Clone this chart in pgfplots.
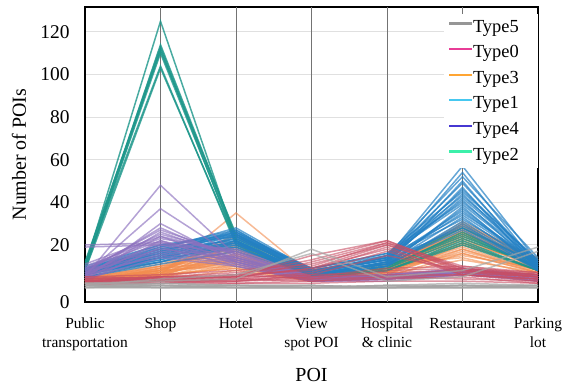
\documentclass[border=0pt]{standalone}
\usepackage{pgfplots}
\pgfplotsset{compat=1.18}
\usepackage{fontspec}
\setmainfont{Liberation Serif}

\definecolor{cTeal}{RGB}{28,150,138}
\definecolor{cPurp}{RGB}{140,112,190}
\definecolor{cBlue}{RGB}{35,128,196}
\definecolor{cOran}{RGB}{242,140,78}
\definecolor{cRed}{RGB}{200,78,100}
\definecolor{cGray}{RGB}{165,165,165}
\definecolor{lGray}{RGB}{150,150,150}
\definecolor{lPink}{RGB}{232,60,150}
\definecolor{lOran}{RGB}{255,165,50}
\definecolor{lSky}{RGB}{70,200,240}
\definecolor{lBlue}{RGB}{70,55,210}
\definecolor{lMint}{RGB}{60,240,170}

\pgfplotsset{
  tealL/.style={color=cTeal, draw opacity=0.8, line width=1.5pt},
  purpL/.style={color=cPurp, draw opacity=0.65, line width=1.5pt},
  blueL/.style={color=cBlue, draw opacity=0.7, line width=1.5pt},
  oranL/.style={color=cOran, draw opacity=0.6, line width=1.5pt},
  redL/.style={color=cRed, draw opacity=0.6, line width=1.5pt},
  grayL/.style={color=cGray, draw opacity=0.7, line width=1.5pt},
}
\newcommand\pl[8]{\addplot[#1,forget plot] coordinates {(0,#2)(1,#3)(2,#4)(3,#5)(4,#6)(5,#7)(6,#8)};}
\newcommand\lgimg[1]{\addlegendimage{legend image code/.code={\fill[#1] (0bp,3.5bp) rectangle (22bp,4.6bp);}}}

\begin{document}
\begin{tikzpicture}
\path[use as bounding box] (-85bp,-85bp) rectangle (479bp,302bp);
\begin{axis}[
  scale only axis, width=453bp, height=295bp,
  xmin=0, xmax=6, ymin=-6.8, ymax=131.7,
  xtick={0,...,6},
  xticklabels={{Public\\transportation},Shop,Hotel,{View\\spot POI},{Hospital\\\& clinic},Restaurant,{Parking\\lot}},
  xticklabel style={align=center, font=\fontsize{15.5}{19}\selectfont, yshift=-12.5bp},
  ytick={-6.8,20,40,60,80,100,120},
  yticklabels={0,20,40,60,80,100,120},
  yticklabel style={font=\fontsize{19.5}{21}\selectfont, xshift=-12bp},
  ytick style={draw=none},
  xtick pos=left,
  major tick length=6bp,
  xtick style={black, line width=0.8bp},
  ymajorgrids,
  major grid style={color=black!12, line width=1.1bp},
  extra x ticks={1,2,3,4,5},
  extra x tick labels={},
  extra x tick style={grid=major, major grid style={color=black!55, line width=0.7bp}, major tick length=0pt},
  axis line style={black, line width=1.1bp},
  every axis y label/.style={at={([xshift=-66bp]axis description cs:0,0.5)}, rotate=90, anchor=center},
  every axis x label/.style={at={(axis description cs:0.5,0)}, anchor=center, yshift=-73bp},
  ylabel={\fontsize{20}{22}\selectfont Number of POIs},
  xlabel={\fontsize{20}{22}\selectfont POI},
  legend style={at={(1,1)}, anchor=north east, yshift=-7bp, draw=none, fill=white, inner xsep=5bp, inner ysep=3bp,
    row sep=5.6bp, font=\fontsize{18.5}{20}\selectfont,
    nodes={inner sep=2bp, text height=13bp, text depth=3bp}},
  legend cell align=left,
]
\lgimg{lGray}\addlegendentry{Type5\rule{12bp}{0pt}}
\lgimg{lPink}\addlegendentry{Type0\rule{12bp}{0pt}}
\lgimg{lOran}\addlegendentry{Type3\rule{12bp}{0pt}}
\lgimg{lSky}\addlegendentry{Type1\rule{12bp}{0pt}}
\lgimg{lBlue}\addlegendentry{Type4\rule{12bp}{0pt}}
\lgimg{lMint}\addlegendentry{Type2\rule{12bp}{0pt}}

% Type3 (orange)
\pl{oranL}{3}{6}{35}{6}{8}{26}{10}
\pl{oranL}{4}{8}{25}{5}{9}{31}{13}
\pl{oranL}{3}{7}{24}{4}{8}{30}{12}
\pl{oranL}{2}{9}{22}{5}{10}{29}{14}
\pl{oranL}{5}{10}{21}{6}{11}{28}{12}
\pl{oranL}{4}{6}{20}{4}{7}{27}{11}
\pl{oranL}{3}{8}{19}{3}{9}{26}{10}
\pl{oranL}{2}{5}{18}{4}{8}{25}{13}
\pl{oranL}{4}{11}{17}{5}{12}{24}{11}
\pl{oranL}{3}{7}{16}{3}{6}{23}{9}
\pl{oranL}{5}{12}{15}{6}{10}{22}{10}
\pl{oranL}{2}{6}{14}{4}{7}{21}{8}
\pl{oranL}{3}{9}{13}{5}{9}{20}{9}
\pl{oranL}{4}{7}{12}{4}{8}{19}{8}
\pl{oranL}{3}{5}{11}{3}{6}{18}{7}
\pl{oranL}{2}{8}{10}{4}{7}{17}{8}
\pl{oranL}{4}{6}{9}{3}{5}{16}{7}
\pl{oranL}{3}{10}{14}{5}{9}{15}{9}
\pl{oranL}{5}{9}{12}{6}{11}{14}{6}
\pl{oranL}{2}{4}{8}{3}{6}{13}{7}
\pl{oranL}{3}{6}{16}{4}{8}{24}{14}
\pl{oranL}{4}{8}{20}{5}{10}{28}{12}
\pl{oranL}{3}{5}{13}{4}{7}{29}{11}
\pl{oranL}{4}{7}{18}{5}{9}{27}{13}
\pl{oranL}{2}{6}{15}{3}{8}{25}{12}
\pl{oranL}{5}{8}{11}{4}{10}{23}{10}
\pl{oranL}{3}{9}{19}{6}{7}{21}{11}
\pl{oranL}{4}{5}{10}{3}{6}{20}{9}
\pl{oranL}{2}{7}{13}{5}{8}{18}{8}
\pl{oranL}{3}{6}{9}{4}{9}{16}{7}
\pl{oranL}{4}{10}{17}{5}{11}{26}{12}
\pl{oranL}{3}{8}{22}{4}{8}{30}{13}

% Type2 (teal)
\pl{tealL}{10}{125}{22}{5}{8}{22}{8}
\pl{tealL}{9}{114}{24}{6}{10}{24}{10}
\pl{tealL}{11}{113}{23}{5}{9}{26}{9}
\pl{tealL}{8}{112}{21}{4}{8}{20}{8}
\pl{tealL}{12}{111}{25}{6}{11}{28}{11}
\pl{tealL}{9}{110}{22}{5}{9}{23}{10}
\pl{tealL}{10}{104}{20}{4}{10}{25}{9}
\pl{tealL}{8}{103}{21}{5}{8}{21}{8}

% Type1 (blue)
\pl{blueL}{8}{18}{28}{8}{14}{57}{12}
\pl{blueL}{7}{16}{27}{7}{13}{54}{10}
\pl{blueL}{9}{19}{26}{9}{15}{52}{14}
\pl{blueL}{6}{15}{26}{6}{12}{50}{9}
\pl{blueL}{8}{17}{25}{8}{14}{49}{11}
\pl{blueL}{7}{14}{25}{7}{11}{47}{8}
\pl{blueL}{10}{20}{24}{9}{16}{45}{13}
\pl{blueL}{6}{13}{24}{6}{12}{44}{10}
\pl{blueL}{8}{16}{23}{7}{13}{42}{12}
\pl{blueL}{7}{15}{23}{8}{14}{41}{9}
\pl{blueL}{9}{18}{22}{6}{15}{39}{11}
\pl{blueL}{5}{12}{22}{5}{10}{38}{8}
\pl{blueL}{8}{17}{21}{7}{13}{36}{10}
\pl{blueL}{6}{14}{21}{6}{12}{35}{12}
\pl{blueL}{7}{13}{20}{8}{11}{33}{9}
\pl{blueL}{9}{16}{20}{7}{14}{32}{11}
\pl{blueL}{6}{12}{19}{6}{10}{30}{8}
\pl{blueL}{8}{15}{19}{5}{12}{29}{10}
\pl{blueL}{7}{14}{18}{7}{13}{28}{9}
\pl{blueL}{5}{11}{17}{6}{11}{27}{8}
\pl{blueL}{7}{17}{26}{8}{13}{46}{12}
\pl{blueL}{8}{19}{27}{7}{15}{43}{13}
\pl{blueL}{6}{14}{22}{6}{11}{37}{10}
\pl{blueL}{9}{20}{25}{9}{16}{40}{12}
\pl{blueL}{7}{12}{21}{5}{10}{31}{9}
\pl{blueL}{8}{18}{24}{8}{14}{34}{11}

% Type4 (purple)
\pl{purpL}{20}{21}{18}{5}{5}{8}{5}
\pl{purpL}{19}{20}{17}{4}{4}{7}{4}
\pl{purpL}{5}{48}{15}{4}{5}{9}{5}
\pl{purpL}{6}{37}{14}{5}{4}{8}{4}
\pl{purpL}{4}{30}{12}{3}{5}{7}{5}
\pl{purpL}{7}{28}{13}{4}{6}{8}{6}
\pl{purpL}{8}{27}{15}{5}{5}{9}{5}
\pl{purpL}{5}{26}{14}{4}{4}{7}{4}
\pl{purpL}{9}{25}{16}{5}{6}{8}{5}
\pl{purpL}{6}{24}{12}{3}{4}{6}{4}
\pl{purpL}{10}{23}{17}{4}{5}{9}{6}
\pl{purpL}{4}{22}{11}{3}{4}{7}{3}
\pl{purpL}{7}{21}{13}{4}{5}{8}{5}
\pl{purpL}{3}{19}{10}{3}{3}{6}{4}
\pl{purpL}{8}{18}{14}{5}{6}{7}{5}
\pl{purpL}{5}{16}{12}{4}{4}{6}{4}
\pl{purpL}{6}{15}{11}{3}{5}{7}{3}
\pl{purpL}{9}{22}{14}{4}{5}{8}{5}
\pl{purpL}{6}{20}{12}{3}{4}{7}{4}
\pl{purpL}{7}{17}{13}{4}{6}{9}{5}
\pl{purpL}{4}{14}{10}{3}{4}{6}{3}
\pl{purpL}{11}{24}{16}{5}{6}{8}{6}

% Type0 (red)
\pl{redL}{3}{4}{5}{15}{22}{9}{6}
\pl{redL}{2}{5}{6}{13}{22}{8}{5}
\pl{redL}{4}{3}{4}{12}{21}{10}{7}
\pl{redL}{3}{5}{7}{10}{21}{7}{5}
\pl{redL}{2}{4}{5}{9}{20}{8}{6}
\pl{redL}{5}{6}{8}{11}{20}{9}{7}
\pl{redL}{3}{3}{6}{8}{19}{6}{4}
\pl{redL}{4}{5}{5}{9}{18}{7}{5}
\pl{redL}{2}{2}{4}{7}{17}{6}{4}
\pl{redL}{3}{4}{3}{6}{15}{8}{6}
\pl{redL}{2}{3}{3}{4}{5}{4}{3}
\pl{redL}{1}{2}{2}{3}{4}{5}{2}
\pl{redL}{4}{5}{4}{5}{6}{6}{4}
\pl{redL}{3}{4}{6}{4}{8}{9}{5}
\pl{redL}{2}{3}{4}{3}{5}{6}{3}
\pl{redL}{5}{4}{5}{6}{7}{8}{5}
\pl{redL}{3}{2}{3}{5}{9}{10}{6}
\pl{redL}{1}{3}{2}{2}{3}{3}{2}

% Type5 (gray)
\pl{grayL}{0}{0}{0}{0}{0}{0}{0}
\pl{grayL}{1}{0}{0}{0}{0}{1}{0}
\pl{grayL}{0}{1}{0}{0}{0}{0}{1}
\pl{grayL}{1}{1}{1}{0}{1}{1}{0}
\pl{grayL}{0}{0}{1}{1}{0}{0}{0}
\pl{grayL}{2}{1}{0}{0}{1}{2}{1}
\pl{grayL}{0}{2}{1}{0}{0}{1}{0}
\pl{grayL}{1}{0}{0}{1}{0}{0}{1}
\pl{grayL}{0}{0}{0}{0}{1}{0}{0}
\pl{grayL}{2}{2}{1}{1}{0}{1}{1}
\pl{grayL}{0}{1}{0}{0}{0}{1}{0}
\pl{grayL}{1}{0}{1}{0}{0}{0}{0}
\pl{grayL}{2}{3}{4}{18}{5}{8}{19}
\pl{grayL}{1}{4}{6}{16}{3}{5}{17}
\end{axis}
\end{tikzpicture}
\end{document}
